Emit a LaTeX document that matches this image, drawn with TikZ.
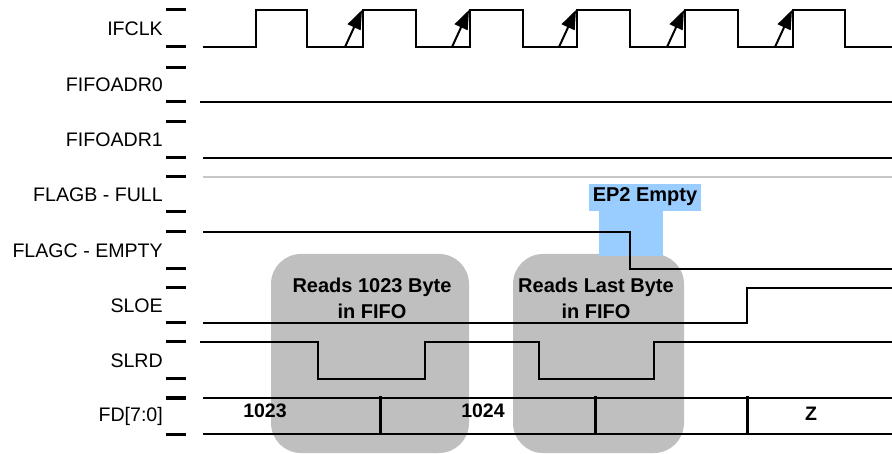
\documentclass[tikz,border=0pt]{standalone}
\usepackage{fontspec}
\setmainfont{Liberation Sans}
\usetikzlibrary{arrows.meta}
\definecolor{flagblue}{HTML}{99CCFF}

\begin{document}
\begin{tikzpicture}[
    x=1pt, y=-1pt,
    lbl/.style={anchor=east, inner sep=0pt, font=\fontsize{19.6}{22}\selectfont},
    tickmark/.style={line width=3pt},
    wave/.style={line width=2pt},
    window/.style={fill=black!25, rounded corners=30pt},
    note/.style={align=center, font=\bfseries\fontsize{20}{26}\selectfont},
    busval/.style={inner sep=0pt, font=\bfseries\fontsize{19.5}{22}\selectfont},
    edgearrow/.style={line width=2pt, -{Triangle[length=19pt,width=14pt]}}
  ]
  \useasboundingbox (0,0) rectangle (892,454);

  % read windows and flag marker
  \fill[window] (271,254) rectangle (469,453);
  \fill[window] (513,254) rectangle (684,453);
  \fill[flagblue] (589,184) rectangle (701,211);
  \fill[flagblue] (599,211) rectangle (663,256);
  \node[note] (ep2) at (645,197) {EP2 Empty};
  \node[note] (win1) at (372,298) {Reads 1023 Byte\\in FIFO};
  \node[note] (win2) at (596,298) {Reads Last Byte\\in FIFO};

  % signal names
  \foreach \lab/\t/\b [count=\i] in {IFCLK/10/47, FIFOADR0/68/102, FIFOADR1/122/158,
      FLAGB - FULL/177/212, FLAGC - EMPTY/232/269, SLOE/288/323, SLRD/342/379, FD[7:0]/398/434} {
    \node[lbl] (sig\i) at (163,{(\t+\b)/2}) {\lab};
    \draw[tickmark] (166,\t) -- (186,\t) (166,\b) -- (186,\b);
  }

  % waveforms
  \draw[wave] (203,47) -| (256,10) -| (307,47) -| (363,10) -| (416,47) -| (470,10)
    -| (523,47) -| (577,10) -| (630,47) -| (685,10) -| (738,47) -| (793,10) -| (845,47) -- (892,47);
  \foreach \r in {363,470,577,685,793}
    \draw[edgearrow] ({\r-18},47) -- ({\r-1},10);
  \draw[wave] (200,102) -- (892,102);
  \draw[wave] (203,158) -- (892,158);
  \draw[wave, black!22] (203,177) -- (892,177);
  \draw[wave] (203,232) -| (630,269) -- (892,269);
  \draw[wave] (203,323) -| (747,288) -- (892,288);
  \draw[wave] (200,342) -| (318,379) -| (425,342) -| (539,379) -| (654,342) -- (892,342);

  % data bus
  \draw[wave] (203,398) -- (892,398) (203,434) -- (892,434);
  \foreach \x in {380,595,747}
    \draw[tickmark] (\x,396) -- (\x,434);
  \node[busval] (d1023) at (265,411) {1023};
  \node[busval] (d1024) at (483,411) {1024};
  \node[busval] (dz) at (811,414) {Z};
\end{tikzpicture}
\end{document}
